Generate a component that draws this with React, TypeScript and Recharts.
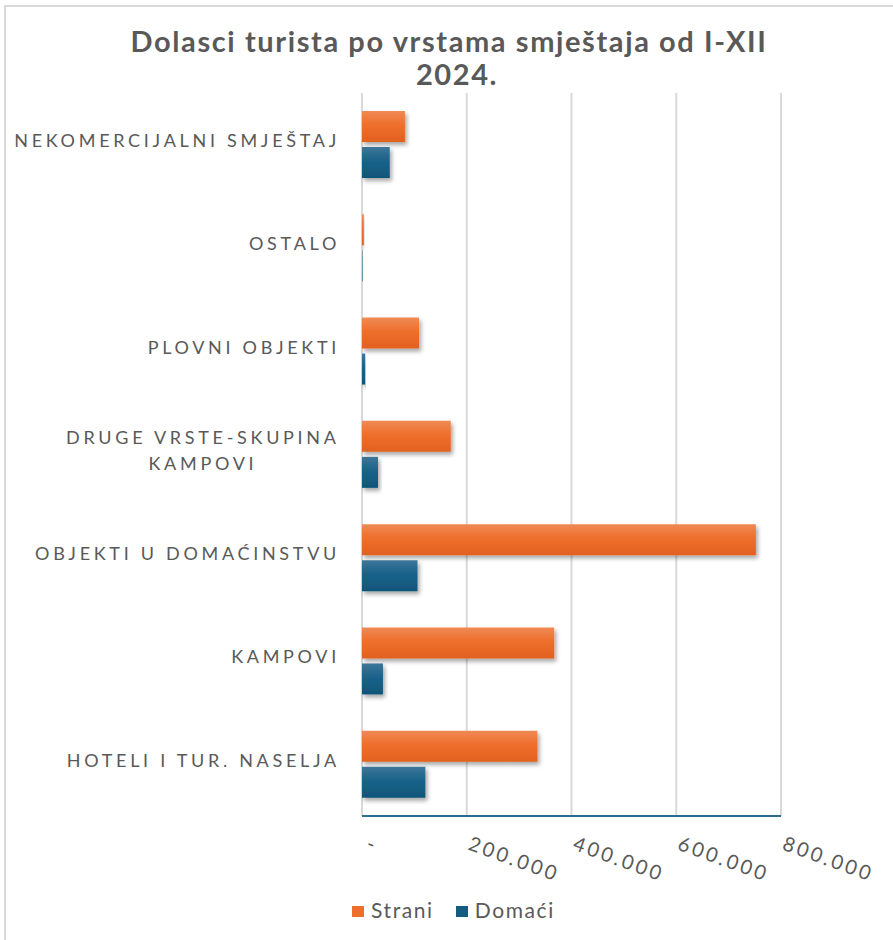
import React from 'react';
import { BarChart, Bar, XAxis, YAxis, CartesianGrid } from 'recharts';

const categories = [
    'NEKOMERCIJALNI SMJEŠTAJ',
    'OSTALO',
    'PLOVNI OBJEKTI',
    'DRUGE VRSTE-SKUPINA KAMPOVI',
    'OBJEKTI U DOMAĆINSTVU',
    'KAMPOVI',
    'HOTELI I TUR. NASELJA',
];
const strani = [82000, 3500, 109000, 169500, 752000, 367000, 335000];
const domaci = [53000, 1000, 6000, 30600, 106000, 40000, 121000];
const xTicks = [0, 200000, 400000, 600000, 800000];

const data = categories.map((name, i) => ({ name, strani: strani[i], domaci: domaci[i] }));

const GRAY = '#595959';
const LABEL_SIZE = 18;
const LABEL_SPACING = 3.7;

let ctx: CanvasRenderingContext2D | null = null;
// canvas width + letter spacing added by hand
const measure = (s: string) => {
    if (!ctx) ctx = document.createElement('canvas').getContext('2d');
    if (!ctx) return s.length * 14;
    ctx.font = `${LABEL_SIZE}px Lato`;
    return ctx.measureText(s).width + s.length * LABEL_SPACING;
};

const wrap = (text: string, max: number) => {
    const words = text.split(' ');
    const lines: string[] = [];
    let cur = '';
    words.forEach(w => {
        const next = cur ? cur + ' ' + w : w;
        if (cur && measure(next) > max) {
            lines.push(cur);
            cur = w;
        } else cur = next;
    });
    if (cur) lines.push(cur);
    return lines;
};

const CategoryTick = (props: any) => {
    const { x, y, payload } = props;
    const lines = wrap(payload.value, 345);
    const right = x - 14;
    const lineH = 26;
    const y0 = y - 4 - ((lines.length - 1) * lineH) / 2;
    const style = { fontFamily: 'Lato', fontSize: LABEL_SIZE, letterSpacing: LABEL_SPACING };
    if (lines.length === 1) {
        return (
            <text x={right} y={y0} dy="0.35em" textAnchor="end" fill={GRAY} style={style}>
                {lines[0]}
            </text>
        );
    }
    const maxW = Math.max(...lines.map(measure));
    const cx = right - maxW / 2;
    return (
        <text textAnchor="middle" fill={GRAY} style={style}>
            {lines.map((l, i) => (
                <tspan key={i} x={cx} y={y0 + i * lineH} dy="0.35em">{l}</tspan>
            ))}
        </text>
    );
};

const ValueTick = (props: any) => {
    const { x, y, payload } = props;
    const label = payload.value === 0 ? '-' : payload.value.toLocaleString('de-DE');
    const px = payload.value === 0 ? x + 8 : x + 5;
    return (
        <g transform={`translate(${px},${y + 12})`}>
            <text transform="rotate(20)" textAnchor="start" dy="0.7em" fill={GRAY}
                style={{ fontFamily: 'Lato', fontSize: 20, letterSpacing: 3 }}>
                {label}
            </text>
        </g>
    );
};

const titleStyle: React.CSSProperties = {
    position: 'absolute', left: 0, width: 898, textAlign: 'center', fontFamily: 'Lato', fontWeight: 700,
    fontSize: 29, lineHeight: '29px', color: GRAY, letterSpacing: 1.6, whiteSpace: 'nowrap',
};

const App: React.FC = () => {
    return (
        <div style={{ position: 'absolute', left: 0, top: 0, width: 893, height: 940, background: '#fff', overflow: 'hidden' }}>
            <div style={{ position: 'absolute', left: 4, top: 5, width: 950, height: 1000, borderTop: '2px solid #d9d9d9', borderLeft: '2px solid #d9d9d9' }} />
            <div style={{ ...titleStyle, top: 26 }}>Dolasci turista po vrstama smještaja od I-XII</div>
            <div style={{ ...titleStyle, top: 59, left: 8 }}>2024.</div>
            <div style={{ position: 'absolute', left: 0, top: 0 }}>
                <BarChart width={893} height={940} data={data} layout="vertical"
                    margin={{ top: 93, right: 112, left: 12, bottom: 64 }} barSize={31} barGap={5}>
                    <defs>
                        <linearGradient id="gOrange" x1="0" y1="0" x2="0" y2="1">
                            <stop offset="0%" stopColor="#F08A55" />
                            <stop offset="45%" stopColor="#EE6E2C" />
                            <stop offset="100%" stopColor="#E2611E" />
                        </linearGradient>
                        <linearGradient id="gBlue" x1="0" y1="0" x2="0" y2="1">
                            <stop offset="0%" stopColor="#3D7699" />
                            <stop offset="45%" stopColor="#1A628A" />
                            <stop offset="100%" stopColor="#105579" />
                        </linearGradient>
                        <filter id="shadow" x="-10%" y="-30%" width="130%" height="180%">
                            <feDropShadow dx="2" dy="3" stdDeviation="2" floodColor="#000" floodOpacity="0.35" />
                        </filter>
                    </defs>
                    <CartesianGrid horizontal={false} stroke="#d9d9d9" strokeWidth={2} />
                    <XAxis type="number" domain={[0, 800000]} ticks={xTicks} interval={0}
                        axisLine={{ stroke: '#2E6D93', strokeWidth: 2 }} tickLine={false}
                        tick={<ValueTick />} height={60} />
                    <YAxis type="category" dataKey="name" width={350} axisLine={false} tickLine={false}
                        tick={<CategoryTick />} interval={0} />
                    <Bar dataKey="strani" name="Strani" fill="url(#gOrange)" filter="url(#shadow)" isAnimationActive={false} />
                    <Bar dataKey="domaci" name="Domaći" fill="url(#gBlue)" filter="url(#shadow)" isAnimationActive={false} />
                </BarChart>
            </div>
            <div style={{ position: 'absolute', left: 352, top: 897, display: 'flex', alignItems: 'center', fontFamily: 'Lato', fontSize: 21, color: GRAY, letterSpacing: 1.6 }}>
                <span style={{ width: 12, height: 11, background: '#EE6E2C', display: 'inline-block', marginRight: 7, marginTop: 4 }} />
                <span>Strani</span>
                <span style={{ width: 12, height: 11, background: '#165C82', display: 'inline-block', marginLeft: 22, marginRight: 7, marginTop: 4 }} />
                <span>Domaći</span>
            </div>
        </div>
    );
};

export default App;
